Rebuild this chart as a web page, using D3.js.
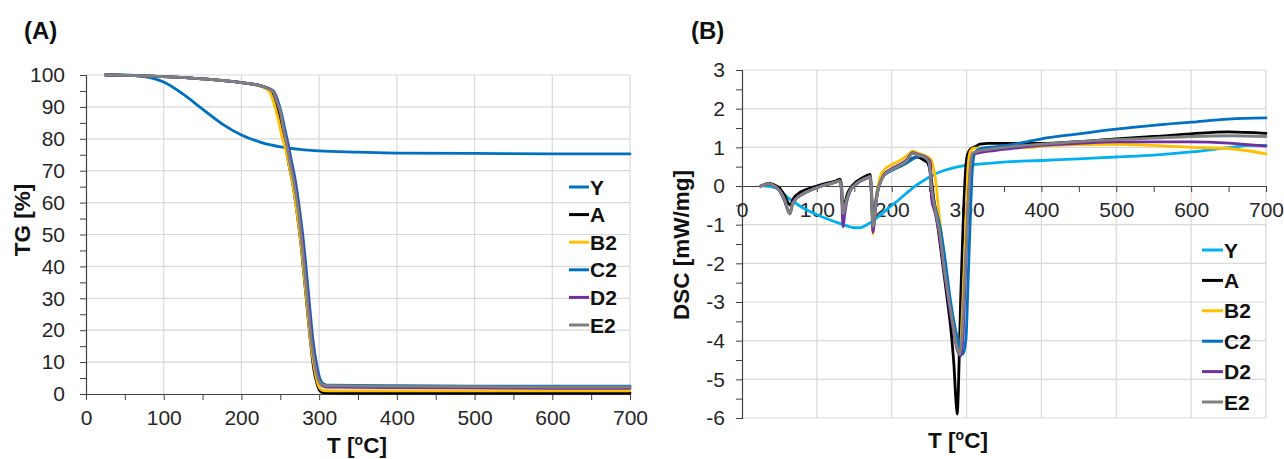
<!DOCTYPE html>
<html><head><meta charset="utf-8">
<script src="https://cdn.jsdelivr.net/npm/d3@7"></script>
<style>
html,body{margin:0;padding:0;background:#fff;}
svg{display:block;font-family:"Liberation Sans",Arial,sans-serif;}
</style></head>
<body>
<svg id="chart" width="1284" height="459"></svg>
<script>
// ---------- DATA ----------
const seriesNames = ["Y","A","B2","C2","D2","E2"];
const colorsA = ["#0070C0","#000000","#FFC000","#0070C0","#7030A0","#808080"];
const colorsB = ["#00B0F0","#000000","#FFC000","#0070C0","#7030A0","#808080"];
const xTicksA = [0,100,200,300,400,500,600,700];
const yTicksA = [0,10,20,30,40,50,60,70,80,90,100];
const xTicksB = [0,100,200,300,400,500,600,700];
const yTicksB = [3,2,1,0,-1,-2,-3,-4,-5,-6];

// TG [%] vs T
const tgY  = [[25,100],[50,100],[75,99.5],[100,97.8],[125,94],[150,89.3],[175,84.7],[200,81.2],[225,78.9],[250,77.5],[275,76.7],[300,76.2],[350,75.8],[400,75.5],[500,75.4],[600,75.3],[700,75.3]];
const tgA  = [[25,100],[50,99.9],[100,99.5],[150,98.8],[200,97.6],[225,96.6],[238,95.2],[243,92.5],[248,88],[253,82],[257,77.5],[261,72],[266,66],[272,56],[277,46],[281,36],[285,26],[289,16],[293,8],[297,3.5],[301,1],[305,0.4],[320,0.3],[700,0.3]];
const tgB2 = [[25,100],[50,99.9],[100,99.5],[150,98.8],[200,97.6],[225,96.4],[236,94.8],[242,91],[247,86.5],[252,81],[257,76.5],[261,72],[266,66],[272,56],[277,46.5],[281,36.5],[285,26.5],[289,16.5],[294,8],[298,3.5],[302,1.5],[306,1.1],[320,1.0],[500,1.0],[700,1.0]];
const tgC2 = [[25,100],[50,99.9],[100,99.5],[150,98.8],[200,97.6],[225,96.6],[241,95],[246,92.5],[251,88.5],[256,83],[260,78.5],[264,73.5],[269,67.5],[275,57.5],[280,47.5],[284,37.5],[288,27],[292,17],[297,9],[301,4.8],[305,3.2],[310,2.8],[400,2.6],[500,2.5],[600,2.5],[700,2.5]];
const tgD2 = [[25,100],[50,99.9],[100,99.5],[150,98.8],[200,97.6],[225,96.6],[241,94.8],[245,92.5],[250,88.5],[255,82.5],[259,78.5],[263,73],[268,67],[274,57.5],[279,47],[283,37],[287,26.5],[291,16.5],[296,8.5],[300,4.2],[304,2.6],[310,2.2],[400,2.0],[500,1.9],[600,1.8],[700,1.8]];
const tgE2 = [[25,100],[50,99.9],[100,99.5],[150,98.8],[200,97.6],[225,96.6],[241,94.7],[245,92],[250,88.5],[255,82],[258,78.5],[262,73],[267,67],[273,57.5],[278,47],[282,37],[286,26.5],[290,16.5],[295,8.5],[299,4.4],[305,2.8],[310,2.6],[400,2.4],[500,2.3],[600,2.2],[700,2.2]];

// DSC [mW/mg] vs T
const dscY  = [[30,0],[40,-0.02],[50,-0.1],[60,-0.28],[70,-0.42],[80,-0.55],[95,-0.7],[110,-0.82],[125,-0.93],[140,-1.03],[150,-1.08],[158,-1.08],[165,-1.02],[175,-0.9],[185,-0.75],[197,-0.55],[210,-0.35],[220,-0.18],[230,-0.02],[241,0.12],[250,0.23],[260,0.33],[275,0.43],[295,0.52],[320,0.57],[350,0.62],[400,0.66],[450,0.7],[500,0.75],[550,0.8],[600,0.88],[650,0.99],[680,1.05],[700,1.05]];
const dscA  = [[25,0],[30,0.04],[35,0.07],[42,0.04],[50,-0.05],[57,-0.25],[62,-0.45],[65,-0.5],[68,-0.35],[75,-0.2],[85,-0.1],[100,0.0],[115,0.08],[125,0.13],[131,0.18],[133,0.0],[135,-0.65],[137,-0.5],[140,-0.25],[145,-0.05],[152,0.1],[160,0.2],[168,0.28],[171,0.3],[173,-0.1],[175,-0.95],[177,-0.7],[180,-0.2],[184,0.1],[190,0.3],[200,0.42],[210,0.5],[220,0.6],[228,0.72],[235,0.75],[242,0.68],[248,0.6],[252,0.3],[256,-0.3],[262,-1.1],[268,-2.0],[274,-2.9],[279,-3.7],[283,-4.6],[286,-5.6],[287.5,-5.9],[289,-5.3],[292,-3.0],[295,-1.2],[298,0.2],[301,0.8],[305,0.95],[312,1.02],[318,1.08],[330,1.1],[360,1.1],[400,1.1],[450,1.15],[500,1.22],[550,1.28],[600,1.35],[650,1.4],[700,1.36]];
const dscB2 = [[25,0],[30,0.03],[35,0.05],[42,0.01],[50,-0.12],[57,-0.38],[61,-0.62],[64,-0.72],[67,-0.5],[72,-0.33],[80,-0.22],[95,-0.08],[110,0.02],[125,0.1],[131,0.13],[133,-0.1],[135,-0.75],[137,-0.6],[140,-0.35],[145,-0.1],[152,0.05],[160,0.15],[168,0.22],[171,0.24],[173,-0.2],[175,-1.25],[177,-0.85],[180,-0.2],[184,0.2],[190,0.42],[200,0.55],[210,0.65],[220,0.78],[228,0.9],[235,0.85],[245,0.78],[252,0.7],[256,0.45],[259,0.1],[262,-0.5],[266,-1.2],[272,-2.2],[278,-3.0],[284,-3.75],[289,-4.3],[292,-4.1],[295,-3.0],[299,-1.0],[302,0.5],[305,0.9],[310,0.98],[330,0.98],[360,1.0],[390,1.0],[400,1.03],[450,1.07],[500,1.08],[550,1.05],[600,1.0],[650,0.97],[700,0.83]];
const dscC2 = [[25,0],[30,0.03],[35,0.05],[42,0.01],[50,-0.12],[57,-0.38],[61,-0.6],[64,-0.7],[67,-0.5],[72,-0.33],[80,-0.22],[95,-0.08],[110,0.02],[125,0.1],[131,0.13],[133,-0.1],[135,-0.8],[137,-0.62],[140,-0.35],[145,-0.1],[152,0.05],[160,0.15],[168,0.22],[171,0.24],[173,-0.2],[175,-1.1],[177,-0.8],[180,-0.25],[184,0.05],[190,0.28],[200,0.4],[210,0.5],[220,0.6],[230,0.72],[238,0.78],[245,0.72],[250,0.6],[253,-0.1],[259,-0.6],[266,-1.2],[272,-2.0],[278,-2.9],[284,-3.6],[290,-4.1],[295,-4.35],[299,-4.0],[302,-2.5],[305,-0.8],[308,0.5],[311,0.85],[320,0.98],[340,1.02],[360,1.07],[380,1.14],[400,1.22],[450,1.35],[500,1.47],[550,1.57],[600,1.65],[650,1.73],[700,1.76]];
const dscD2 = [[25,0],[30,0.03],[35,0.05],[42,0.01],[50,-0.12],[57,-0.38],[61,-0.62],[64,-0.72],[67,-0.5],[72,-0.33],[80,-0.22],[95,-0.08],[110,0.02],[125,0.1],[131,0.13],[133,-0.2],[135,-1.05],[137,-0.75],[140,-0.4],[145,-0.12],[152,0.04],[160,0.14],[168,0.21],[171,0.23],[173,-0.3],[175,-1.2],[177,-0.85],[180,-0.3],[184,0.05],[190,0.3],[200,0.45],[210,0.55],[220,0.68],[228,0.86],[235,0.82],[245,0.75],[251,0.65],[252,0.55],[253,-0.3],[258,-0.7],[264,-1.3],[270,-2.2],[276,-3.0],[282,-3.7],[287,-4.2],[292,-4.4],[295,-4.0],[298,-2.5],[302,-0.5],[305,0.4],[308,0.82],[315,0.85],[330,0.9],[360,0.97],[400,1.05],[450,1.1],[500,1.14],[550,1.14],[600,1.14],[650,1.11],[700,1.03]];
const dscE2 = [[25,0],[30,0.03],[35,0.06],[42,0.02],[50,-0.12],[57,-0.35],[61,-0.6],[64,-0.72],[67,-0.5],[72,-0.33],[80,-0.22],[95,-0.08],[110,0.02],[125,0.1],[131,0.14],[133,-0.1],[135,-0.72],[137,-0.6],[140,-0.35],[145,-0.1],[152,0.05],[160,0.15],[168,0.22],[171,0.24],[173,-0.2],[175,-1.05],[177,-0.8],[180,-0.3],[184,0.05],[190,0.28],[200,0.42],[210,0.52],[220,0.65],[228,0.84],[235,0.8],[245,0.73],[250,0.6],[253,0.0],[258,-0.6],[264,-1.2],[270,-2.1],[276,-2.9],[282,-3.6],[287,-4.15],[291,-4.35],[294,-3.8],[298,-2.2],[302,-0.5],[305,0.5],[308,0.85],[315,0.9],[330,0.95],[360,1.02],[400,1.08],[450,1.15],[500,1.2],[550,1.24],[600,1.28],[650,1.3],[700,1.28]];

const tgSeries  = [tgY, tgA, tgB2, tgC2, tgD2, tgE2];
const dscSeries = [dscY, dscA, dscB2, dscC2, dscD2, dscE2];

// ---------- DRAW ----------
const svg = d3.select("#chart");
const TICKFONT = 21, TITLEFONT = 22.5, LEGFONT = 21;
const gridColor = "#d9d9d9";
const axisColor = "#404040";

function panel(opts){
  const g = svg.append("g");
  const x = d3.scaleLinear().domain([0,700]).range(opts.xr);
  const y = d3.scaleLinear().domain(opts.yd).range(opts.yr);
  const x0 = x(0), yTop = y(opts.yd[1]), yBot = y(opts.yd[0]);
  const yAxisPos = y(opts.xAxisAt);
  // grid
  g.append("g").selectAll("line").data(opts.xTicks.filter(v=>v!==0)).join("line")
    .attr("x1",d=>x(d)).attr("x2",d=>x(d)).attr("y1",yTop).attr("y2",yBot)
    .attr("stroke",gridColor).attr("stroke-width",1.2);
  g.append("g").selectAll("line").data(opts.yTicks.filter(v=>v!==opts.xAxisAt)).join("line")
    .attr("x1",x0).attr("x2",x(700)).attr("y1",d=>y(d)).attr("y2",d=>y(d))
    .attr("stroke",gridColor).attr("stroke-width",1.2);
  // y axis
  const yMinor = d3.range(opts.yd[0], opts.yd[1]+1e-9, opts.yMinorStep);
  const yAx = d3.axisLeft(y).tickValues(yMinor).tickSize(6).tickPadding(opts.yPad)
    .tickFormat(d => Math.abs(d-Math.round(d))<1e-9 && opts.yTicks.includes(Math.round(d)) ? String(Math.round(d)) : "");
  const ga = g.append("g").attr("transform",`translate(${x0},0)`).call(yAx);
  ga.select(".domain").attr("stroke",axisColor).attr("stroke-width",1.2);
  ga.selectAll(".tick line").attr("stroke",axisColor).attr("stroke-width",1);
  ga.selectAll("text").attr("font-size",TICKFONT).attr("fill","#262626").attr("font-family","'Liberation Sans',Arial,sans-serif");
  // x axis
  const xMinor = d3.range(0,701,50);
  const xAx = d3.axisBottom(x).tickValues(xMinor).tickSize(6).tickSizeOuter(0).tickPadding(opts.xPad)
    .tickFormat(d => (d%100===0 && opts.xTicks.includes(d)) ? String(d) : "");
  const gx = g.append("g").attr("transform",`translate(0,${yAxisPos})`).call(xAx);
  gx.select(".domain").attr("stroke",axisColor).attr("stroke-width",1.2);
  gx.selectAll(".tick line").attr("stroke",axisColor).attr("stroke-width",1);
  gx.selectAll("text").attr("font-size",TICKFONT).attr("fill","#262626").attr("font-family","'Liberation Sans',Arial,sans-serif");
  // lines
  const line = d3.line().x(d=>x(d[0])).y(d=>y(d[1])).curve(d3.curveMonotoneX);
  opts.series.forEach((s,i)=>{
    g.append("path").datum(s).attr("d",line).attr("fill","none")
      .attr("stroke",opts.colors[i]).attr("stroke-width",2.8)
      .attr("stroke-linejoin","round").attr("stroke-linecap","round");
  });
  // legend
  const lg = g.append("g");
  seriesNames.forEach((n,i)=>{
    const yy = opts.leg.y0 + i*opts.leg.dy;
    lg.append("line").attr("x1",opts.leg.x).attr("x2",opts.leg.x+opts.leg.w)
      .attr("y1",yy).attr("y2",yy).attr("stroke",opts.colors[i]).attr("stroke-width",3);
    lg.append("text").attr("x",opts.leg.x+opts.leg.w+1).attr("y",yy).attr("dy","0.36em")
      .attr("font-size",LEGFONT).attr("font-weight","bold").attr("fill","#111").text(n);
  });
  // axis titles
  g.append("text").attr("transform",`translate(${opts.yt[0]},${opts.yt[1]}) rotate(-90)`)
    .attr("text-anchor","middle").attr("dy","0.36em").attr("font-size",TITLEFONT).attr("font-weight","bold").attr("fill","#111")
    .text(opts.yTitle);
  const xt = g.append("text").attr("x",opts.xt[0]).attr("y",opts.xt[1]).attr("text-anchor","middle")
    .attr("font-size",TITLEFONT).attr("font-weight","bold").attr("fill","#111");
  xt.append("tspan").text("T [");
  xt.append("tspan").attr("font-size",14).attr("dy",-8).text("o");
  xt.append("tspan").attr("dy",8).text("C]");
  // panel label
  svg.append("text").attr("x",opts.lab[0]).attr("y",opts.lab[1]).attr("font-size",24)
    .attr("font-weight","bold").attr("fill","#111").text(opts.label);
}

panel({
  xr:[86,630], yd:[0,100], yr:[394,75], xAxisAt:0,
  xTicks:xTicksA, yTicks:yTicksA, yMinorStep:5, yPad:15, xPad:10,
  series:tgSeries, colors:colorsA,
  leg:{x:569,w:20,y0:187,dy:27.6},
  yTitle:"TG [%]", yt:[22,220], xt:[357,453], lab:[24,39], label:"(A)"
});
panel({
  xr:[742,1266], yd:[-6,3], yr:[418,70], xAxisAt:0,
  xTicks:xTicksB, yTicks:yTicksB, yMinorStep:0.5, yPad:11, xPad:10,
  series:dscSeries, colors:colorsB,
  leg:{x:1202,w:21,y0:250,dy:30.4},
  yTitle:"DSC [mW/mg]", yt:[681,245], xt:[958,448], lab:[691,39], label:"(B)"
});
</script>
</body></html>
